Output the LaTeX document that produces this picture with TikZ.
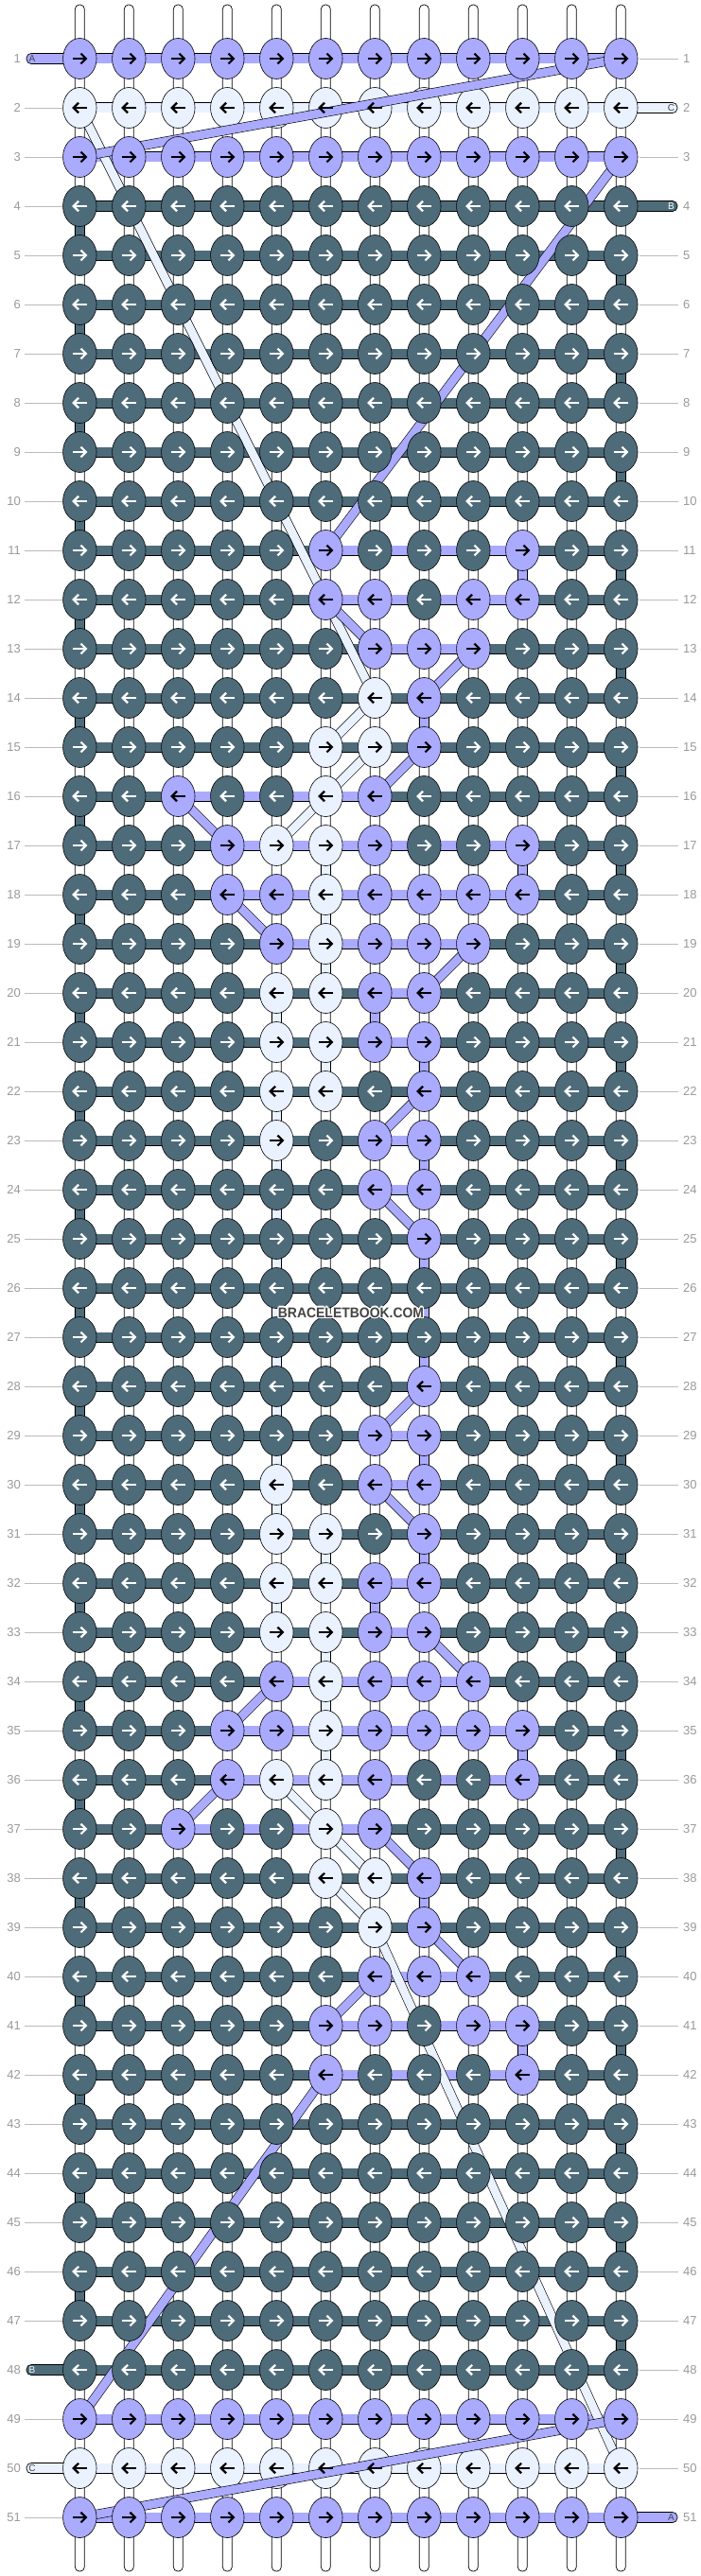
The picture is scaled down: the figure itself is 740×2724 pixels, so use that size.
\documentclass[tikz,border=0pt]{standalone}
\usepackage{fontspec}
\setmainfont{Liberation Sans}
\usetikzlibrary{calc,shapes.geometric}
\definecolor{slate}{HTML}{4E6B7A}
\definecolor{purp}{HTML}{AAAAFF}
\definecolor{lblue}{HTML}{EAF1FF}
\definecolor{labgray}{HTML}{999999}
\definecolor{linegray}{HTML}{BBBBBB}
\definecolor{wmgray}{HTML}{444444}
\tikzset{
  band/.style={draw=black, line width=0.7pt, double=#1, double distance=9.6pt},
  warpbox/.style={draw=black, line width=0.7pt, fill=white, rounded corners=4.6pt},
  stubbox/.style={draw=black, line width=0.7pt, fill=#1, rounded corners=5pt},
  diag/.style={draw=black, line width=0.6pt, double=#1, double distance=8.8pt},
  knotbase/.style={shape=ellipse, minimum width=35.5pt, minimum height=43pt, inner sep=0pt, draw=black, line width=0.6pt},
  knotS/.style={knotbase, fill=slate},
  knotP/.style={knotbase, fill=purp},
  knotC/.style={knotbase, fill=lblue},
  arrbase/.style={line width=2.2pt, line cap=butt, line join=miter},
  arrS/.style={arrbase, draw=white},
  arrP/.style={arrbase, draw=black},
  arrC/.style={arrbase, draw=black},
  lab/.style={font=\fontsize{13}{13}\selectfont, text=labgray, inner sep=0pt},
  labline/.style={draw=linegray, line width=0.9pt},
  stubtxt/.style={font=\fontsize{10}{10}\selectfont, inner sep=0pt},
  wm/.style={font=\bfseries\fontsize{15}{15}\selectfont, inner sep=0pt, xscale=0.93}
}
\newcommand\knotshapes[2]{%
  \edef\templist{#2}%
  \foreach \k [count=\c] in \templist {%
    \node[knot\k] (k-\c-#1) at (p-\c-#1) {};}%
}
\newcommand\knotarrows[2]{%
  \pgfmathtruncatemacro\dir{isodd(#1)?1:-1}%
  \edef\templist{#2}%
  \foreach \k [count=\c] in \templist {%
    \begin{scope}[shift={(p-\c-#1)},xscale=\dir]
      \draw[arr\k] (-7.5,0) -- (6,0);
      \draw[arr\k] (1.2,-5.3) -- (6.6,0) -- (1.2,5.3);
    \end{scope}}%
}
\newcommand\knotrow[2]{\knotshapes{#1}{#2}\knotarrows{#1}{#2}}
\begin{document}
\begin{tikzpicture}[x=1pt,y=-1pt]
\useasboundingbox (0,0) rectangle (740,2724);
% knot centres
\foreach \r in {1,...,51}{\foreach \c in {1,...,12}{%
  \coordinate (p-\c-\r) at ({84.3+52*(\c-1)},{62+52*(\r-1)});}}
% warp threads
\foreach \c in {1,...,12}{%
  \coordinate (wt-\c) at ({84.3+52*(\c-1)-5},5);
  \coordinate (wb-\c) at ({84.3+52*(\c-1)+5},2719);
  \draw[warpbox] (wt-\c) rectangle (wb-\c);}
% turnarounds of B at the edges
\foreach \r in {4,6,...,46}{\pgfmathtruncatemacro\rr{\r+1}\draw[band=slate] (p-1-\r) -- (p-1-\rr);}
\foreach \r in {5,7,...,47}{\pgfmathtruncatemacro\rr{\r+1}\draw[band=slate] (p-12-\r) -- (p-12-\rr);}
% coloured vertical segments
\foreach \c/\r/\col in {10/11/purp,10/17/purp,8/14/purp,7/20/purp,8/21/purp,8/23/purp,8/25/purp,8/26/purp,8/27/purp,8/29/purp,8/31/purp,7/32/purp,10/35/purp,8/38/purp,10/41/purp,
  6/17/lblue,6/18/lblue,6/19/lblue,5/20/lblue,6/21/lblue,5/22/lblue,5/23/lblue,5/24/lblue,5/25/lblue,5/26/lblue,5/27/lblue,5/28/lblue,5/29/lblue,5/30/lblue,6/31/lblue,5/32/lblue,6/33/lblue,6/34/lblue,6/35/lblue}{%
  \pgfmathtruncatemacro\rr{\r+1}\draw[band=\col] (p-\c-\r) -- (p-\c-\rr);}
% horizontal rows
\foreach \r in {4,...,48}{\draw[band=slate] (p-1-\r) -- (p-12-\r);}
\foreach \r in {1,3,49,51}{\draw[band=purp] (p-1-\r) -- (p-12-\r);}
\foreach \r in {2,50}{\draw[band=lblue] (p-1-\r) -- (p-12-\r);}
\foreach \r/\a/\b in {11/6/10,12/6/10,13/7/9,16/3/7,17/4/10,18/4/10,19/5/9,20/7/8,21/7/8,23/7/8,24/7/8,29/7/8,30/7/8,32/7/8,33/7/8,34/5/9,35/4/10,36/4/10,37/3/7,40/7/9,41/6/10,42/6/10}{%
  \draw[band=purp] (p-\a-\r) -- (p-\b-\r);}
% loose ends A, B, C
\coordinate (sA-in) at (28,56.5);    \draw[stubbox=purp] (sA-in) rectangle ($(p-1-1)+(0,5.5)$);
\coordinate (sC-in) at (716,119.5);  \draw[stubbox=lblue] ($(p-12-2)+(0,-5.5)$) rectangle (sC-in);
\coordinate (sB-in) at (716,223.5);  \draw[stubbox=slate] ($(p-12-4)+(0,-5.5)$) rectangle (sB-in);
\coordinate (sB-out) at (28,2500.5); \draw[stubbox=slate] (sB-out) rectangle ($(p-1-48)+(0,5.5)$);
\coordinate (sC-out) at (28,2604.5); \draw[stubbox=lblue] (sC-out) rectangle ($(p-1-50)+(0,5.5)$);
\coordinate (sA-out) at (716,2667.5); \draw[stubbox=purp] ($(p-12-51)+(0,-5.5)$) rectangle (sA-out);
% diagonals running under the knots
\foreach \a/\b/\cc/\d/\col in {12/3/6/11/purp,6/42/1/49/purp,
  1/2/7/14/lblue,7/39/12/50/lblue,
  6/12/7/13/purp,9/13/8/14/purp,8/15/7/16/purp,3/16/4/17/purp,4/18/5/19/purp,9/19/8/20/purp,8/22/7/23/purp,7/24/8/25/purp,
  8/28/7/29/purp,7/30/8/31/purp,8/33/9/34/purp,5/34/4/35/purp,4/36/3/37/purp,7/37/8/38/purp,8/39/9/40/purp,7/40/6/41/purp,
  7/14/6/15/lblue,7/15/6/16/lblue,6/16/5/17/lblue,5/36/6/37/lblue,6/37/7/38/lblue,6/38/7/39/lblue}{%
  \draw[diag=\col] (p-\a-\b) -- (p-\cc-\d);}
% rows 2 and 50: knots, the long A crossings over them, then their arrows
\knotshapes{2}{C,C,C,C,C,C,C,C,C,C,C,C}
\knotshapes{50}{C,C,C,C,C,C,C,C,C,C,C,C}
\draw[diag=purp] (p-12-1) -- (p-1-3);
\draw[diag=purp] (p-12-49) -- (p-1-51);
\knotarrows{2}{C,C,C,C,C,C,C,C,C,C,C,C}
\knotarrows{50}{C,C,C,C,C,C,C,C,C,C,C,C}
% other knots
\knotrow{1}{P,P,P,P,P,P,P,P,P,P,P,P}
\knotrow{3}{P,P,P,P,P,P,P,P,P,P,P,P}
\knotrow{49}{P,P,P,P,P,P,P,P,P,P,P,P}
\knotrow{51}{P,P,P,P,P,P,P,P,P,P,P,P}
\foreach \r in {4,...,10,26,27,43,44,...,48}{\knotrow{\r}{S,S,S,S,S,S,S,S,S,S,S,S}}
\foreach \r/\l in {11/{S,S,S,S,S,P,S,S,S,P,S,S},12/{S,S,S,S,S,P,P,S,P,P,S,S},13/{S,S,S,S,S,S,P,P,P,S,S,S},
  14/{S,S,S,S,S,S,C,P,S,S,S,S},15/{S,S,S,S,S,C,C,P,S,S,S,S},16/{S,S,P,S,S,C,P,S,S,S,S,S},
  17/{S,S,S,P,C,C,P,S,S,P,S,S},18/{S,S,S,P,P,C,P,P,P,P,S,S},19/{S,S,S,S,P,C,P,P,P,S,S,S},
  20/{S,S,S,S,C,C,P,P,S,S,S,S},21/{S,S,S,S,C,C,P,P,S,S,S,S},22/{S,S,S,S,C,C,S,P,S,S,S,S},
  23/{S,S,S,S,C,S,P,P,S,S,S,S},24/{S,S,S,S,S,S,P,P,S,S,S,S},25/{S,S,S,S,S,S,S,P,S,S,S,S}}{%
  \knotrow{\r}{\l}\pgfmathtruncatemacro\m{53-\r}\knotrow{\m}{\l}}
% row numbers and their lines
\foreach \r in {1,...,51}{%
  \node[lab, anchor=east] (nl-\r) at (22,{62+52*(\r-1)}) {\r};
  \node[lab, anchor=west] (nr-\r) at (722,{62+52*(\r-1)}) {\r};}
\foreach \r in {2,...,47,49,51}{%
  \coordinate (la-\r) at (26,{62+52*(\r-1)}); \coordinate (lb-\r) at (66,{62+52*(\r-1)});
  \draw[labline] (la-\r) -- (lb-\r);}
\foreach \r in {1,3,5,6,...,50}{%
  \coordinate (ra-\r) at (676,{62+52*(\r-1)}); \coordinate (rb-\r) at (717,{62+52*(\r-1)});
  \draw[labline] (ra-\r) -- (rb-\r);}
% thread letters
\node[stubtxt, text=wmgray] (tA-in) at (34,62) {A};
\node[stubtxt, text=wmgray] (tC-in) at (709.5,114) {C};
\node[stubtxt, text=white] (tB-in) at (709.5,218) {B};
\node[stubtxt, text=white] (tB-out) at (34,2506) {B};
\node[stubtxt, text=wmgray] (tC-out) at (34,2610) {C};
\node[stubtxt, text=wmgray] (tA-out) at (709.5,2662) {A};
% watermark
\foreach \dx/\dy [count=\i] in {-1.2/0,1.2/0,0/-1.2,0/1.2,-0.9/-0.9,0.9/0.9,-0.9/0.9,0.9/-0.9}{%
  \node[wm, text=white] (wmh-\i) at ({371+\dx},{1388+\dy}) {BRACELETBOOK.COM};}
\node[wm, text=wmgray] (wm) at (371,1388) {BRACELETBOOK.COM};
\end{tikzpicture}
\end{document}
